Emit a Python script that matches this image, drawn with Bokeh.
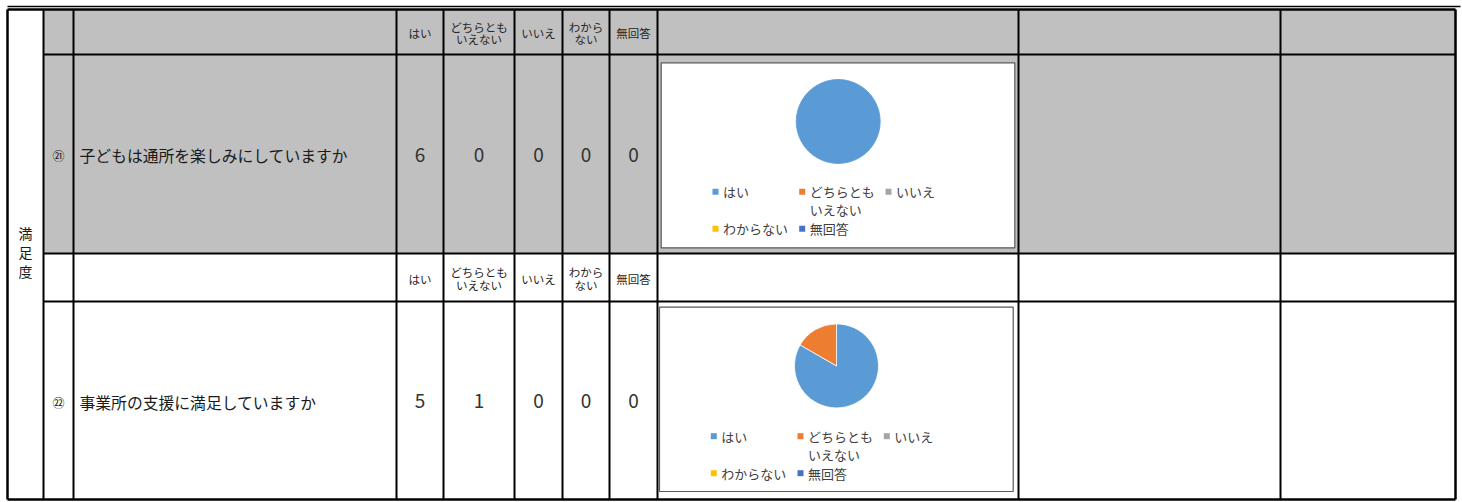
import numpy as np
from bokeh.plotting import figure
from bokeh.models import Range1d, ColumnDataSource
from bokeh.core.properties import value
from bokeh.embed import file_html
from bokeh.resources import INLINE

# ---------------- data ----------------
category = "満足度"
answer_labels = ["はい", "どちらとも\nいえない", "いいえ", "わから\nない", "無回答"]
legend_labels = ["はい", "どちらとも\nいえない", "いいえ", "わからない", "無回答"]
question_numbers = ["㉑", "㉒"]
questions = ["子どもは通所を楽しみにしていますか", "事業所の支援に満足していますか"]
q21_counts = [6, 0, 0, 0, 0]
q22_counts = [5, 1, 0, 0, 0]
slice_colors = ["#5B9BD5", "#ED7D31", "#A5A5A5", "#FFC000", "#4472C4"]

# ---------------- layout (page pixels) ----------------
FONT = value("Noto Sans CJK JP")
col_x = [7, 43, 73, 396, 443, 514, 562, 609, 657, 1018, 1280, 1455]
row_y = [9, 54, 253, 301, 499]   # header1, q21, header2, q22
answer_cols = col_x[3:9]
GRAY = "#C0C0C0"

W, H = 1462, 502
p = figure(width=W, height=H, x_range=Range1d(0, W), y_range=Range1d(-H, 0),
           output_backend="svg", toolbar_location=None, min_border=0)
p.xaxis.visible = False
p.yaxis.visible = False
p.grid.visible = False
p.outline_line_color = None
p.background_fill_color = "white"
p.border_fill_color = "white"


def txt(xs, ys, texts, size, align="center", color="#1a1a1a"):
    p.text(x=xs, y=[-y for y in ys], text=texts, text_font=FONT, text_font_size=size,
           text_align=align, text_baseline="middle", text_color=color)


# gray rows (header 1 + question 21)
p.quad(left=[col_x[1]], right=[col_x[-1]], top=[-row_y[0]], bottom=[-row_y[2]],
       fill_color=GRAY, line_color=None)

# chart boxes
boxes = [(660.7, 62.3, 1014.3, 247.3), (659.0, 306.7, 1012.7, 491.0)]
p.quad(left=[b[0] for b in boxes], right=[b[2] for b in boxes],
       top=[-b[1] for b in boxes], bottom=[-b[3] for b in boxes],
       fill_color="white", line_color="#595959", line_width=1.2)

# grid lines
x0s, y0s, x1s, y1s, ws = [], [], [], [], []
x0s += [col_x[0], col_x[-1], col_x[0]]
y0s += [-row_y[0], -row_y[0], -row_y[-1]]
x1s += [col_x[0], col_x[-1], col_x[-1]]
y1s += [-row_y[-1], -row_y[-1], -row_y[-1]]
ws += [2.5, 2.5, 2.5]
x0s += [col_x[0], col_x[0]]
y0s += [-6, -row_y[0]]
x1s += [1460, col_x[-1]]
y1s += [-6, -row_y[0]]
ws += [1.5, 2.5]
for cx in col_x[1:-1]:
    x0s.append(cx); x1s.append(cx)
    y0s.append(-row_y[0]); y1s.append(-row_y[-1]); ws.append(2)
for ry in row_y[1:-1]:
    x0s.append(col_x[1]); x1s.append(col_x[-1])
    y0s.append(-ry); y1s.append(-ry); ws.append(2)
p.segment(x0=x0s, y0=y0s, x1=x1s, y1=y1s, line_color="black", line_width=ws)

# category (stacked vertically)
chars = list(category)
txt([25] * len(chars), [251 + 19 * (i - 1) for i in range(len(chars))], chars, "14px")

# header rows
centers = [(answer_cols[i] + answer_cols[i + 1]) / 2 for i in range(5)]
for hc in [(row_y[0] + row_y[1]) / 2 + 0.8, (row_y[2] + row_y[3]) / 2 + 0.8]:
    xs, ys, ts = [], [], []
    for c, lab in zip(centers, answer_labels):
        lines = lab.split("\n")
        n = len(lines)
        for j, ln in enumerate(lines):
            xs.append(c)
            ys.append(hc + 12.5 * (j - (n - 1) / 2) + (0.3 if n == 1 else 0))
            ts.append(ln)
    txt(xs, ys, ts, "11.5px", color="#262626")

# question rows
q_rows = [(row_y[1], row_y[2]), (row_y[3], row_y[4])]
all_counts = [q21_counts, q22_counts]
for qi in range(2):
    yc = (q_rows[qi][0] + q_rows[qi][1]) / 2 + 1.5
    txt([(col_x[1] + col_x[2]) / 2], [yc], [question_numbers[qi]], "12px")
    txt([col_x[2] + 6], [yc], [questions[qi]], "15.8px", align="left")
    txt(centers, [yc - 0.7] * 5, [str(v) for v in all_counts[qi]], "19px",
        color="#333333")

# pies + legends
for qi in range(2):
    bx, by = boxes[qi][0], boxes[qi][1]
    pcx, pcy = bx + 177.0, -(by + 58.7)
    counts = np.array(all_counts[qi], dtype=float)
    frac = counts / counts.sum()
    cum = np.concatenate([[0.0], np.cumsum(frac)])[:-1]
    start = np.pi / 2 - 2 * np.pi * cum
    end = start - 2 * np.pi * np.minimum(frac, 0.99999)
    keep = frac > 0
    src = ColumnDataSource(dict(
        start=start[keep], end=end[keep],
        color=[c for c, k in zip(slice_colors, keep) if k],
        line=[("white" if f < 1 else c) for c, f, k in zip(slice_colors, frac, keep) if k],
    ))
    p.wedge(x=pcx, y=pcy, radius=42, start_angle="start", end_angle="end",
            direction="clock", fill_color="color", line_color="line",
            line_width=0.8, source=src)

    sq_dx = [54.3, 141.0, 227.3]
    row_dy = [129.0, 166.0]
    lx = [bx + sq_dx[i % 3] for i in range(5)]
    ly = [by + row_dy[i // 3] for i in range(5)]
    p.scatter(x=lx, y=[-y for y in ly], marker="square", size=6,
              fill_color=slice_colors, line_color=None)
    xs, ys, ts = [], [], []
    for x, y, lab in zip(lx, ly, legend_labels):
        for j, ln in enumerate(lab.split("\n")):
            xs.append(x + 7.5)
            ys.append(y + 18 * j)
            ts.append(ln)
    txt(xs, ys, ts, "13px", align="left", color="#404040")

open("out.html", "w").write(file_html(p, INLINE))
